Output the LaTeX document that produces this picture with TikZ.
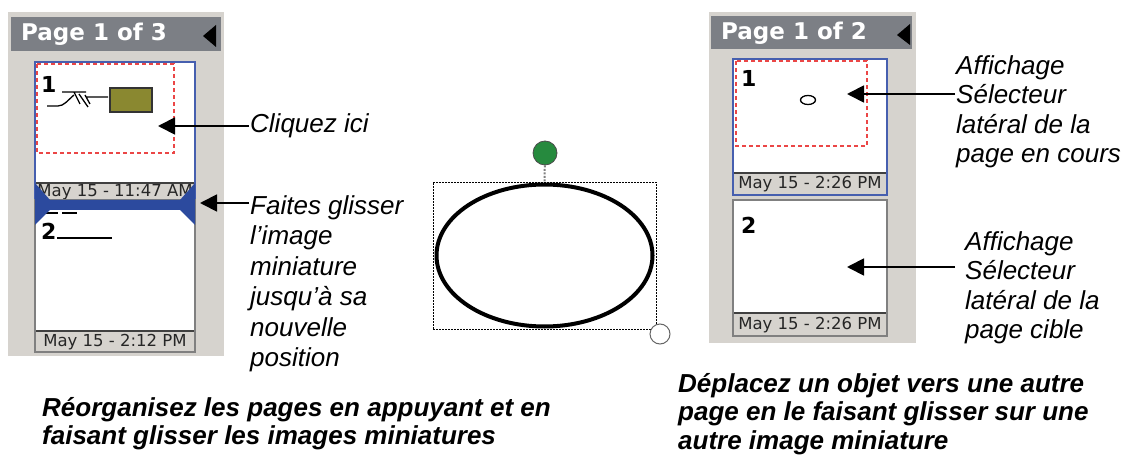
\documentclass[tikz,border=0pt]{standalone}
\usepackage{fontspec}
\setmainfont{Liberation Sans}
\newfontfamily\uifont{DejaVu Sans}
\usetikzlibrary{arrows.meta,positioning}
\definecolor{panelgray}{RGB}{214,211,206}
\definecolor{headgray}{RGB}{124,127,133}
\definecolor{markblue}{RGB}{44,74,158}
\definecolor{frameblue}{RGB}{70,95,175}
\definecolor{handlegreen}{RGB}{38,138,62}
\definecolor{thumbolive}{RGB}{138,136,48}
\definecolor{dashred}{RGB}{235,70,70}

\begin{document}
\begin{tikzpicture}[x=1pt, y=-1pt, inner sep=0pt,
panel/.style={fill=panelgray},
header/.style={fill=headgray},
headtext/.style={anchor=west, text=white, font=\uifont\bfseries\fontsize{23}{25}\selectfont},
thumb/.style={draw=frameblue, fill=white, line width=1.2pt},
thumbplain/.style={draw=gray, fill=white, line width=1.2pt},
datestrip/.style={fill=panelgray},
dateline/.style={draw=black!75, line width=1.5pt},
datetext/.style={font=\uifont\fontsize{16.5}{18}\selectfont, text=black!85},
pagenum/.style={anchor=west, font=\uifont\bfseries\fontsize{22}{24}\selectfont},
selbox/.style={draw=dashred, line width=1.6pt, dash pattern=on 4pt off 3pt},
label/.style={align=left, inner sep=1pt, font=\itshape\fontsize{26}{30.5}\selectfont},
rlabel/.style={label, font=\itshape\fontsize{26}{29.5}\selectfont},
caption/.style={align=left, anchor=north west, font=\bfseries\itshape\fontsize{26}{28.5}\selectfont},
pointer/.style={-{Triangle[length=17pt,width=17pt]}, line width=1.8pt}]
\useasboundingbox (0,0) rectangle (1129,462);

\fill[panel] (8,12) rectangle (224,356);
\fill[header] (11,17) rectangle (221,51);
\node[headtext] (head_l) at (21,34) {Page 1 of 3};
\fill (216,25) -- (216,47) -- (203,36) -- cycle;
\draw[thumb] (35,62) rectangle (195,200);
\fill[datestrip] (36,183) rectangle (194,199);
\draw[dateline] (36,183) -- (194,183);
\node[datetext] (date_l1) at (115,192) {May 15 - 11:47 AM};
\draw[selbox] (37,64) rectangle (174,153);
\node[pagenum] (num_l1) at (41,84) {1};
\draw[line width=1.3pt] (47,106) -- (58,106) .. controls (64,106) and (68,100) .. (74,95);
\draw[line width=1.3pt] (62,92) -- (86,92) (74,92) -- (80,104) (79,94) -- (88,107) (85,95) -- (90,104) (86,97) -- (108,97);
\draw[fill=thumbolive, draw=black!80, line width=1.2pt] (110,88) rectangle (152,112);
\draw[thumbplain] (35,200) rectangle (195,352);
\fill[datestrip] (36,331) rectangle (194,351);
\draw[dateline] (36,331) -- (194,331);
\node[datetext] (date_l2) at (115,342) {May 15 - 2:12 PM};
\node[pagenum] (num_l2) at (41,231) {2};
\draw[line width=1.5pt] (57,238) -- (112,238) (43,213) -- (58,213) (62,213) -- (77,213);
\fill[markblue] (35,183) -- (50,200) -- (180,200) -- (195,183) -- (195,225) -- (180,210) -- (50,210) -- (35,225) -- cycle;

\node[draw, line width=0.8pt, dash pattern=on 2pt off 1pt, minimum width=223pt, minimum height=147pt] (sel) at (544.5,255.5) {};
\draw[line width=4pt] (sel.center) ellipse [x radius=108pt, y radius=71pt];
\node[circle, fill=handlegreen, draw=black!70, line width=0.8pt, minimum size=24pt] (rot) at (545,153) {};
\node[circle, fill=white, draw=black!60, line width=1pt, minimum size=20pt] (grip) at (660,334) {};
\draw[gray, line width=2pt, dash pattern=on 2pt off 1.5pt] (rot) -- (sel.north);

\fill[panel] (709,12) rectangle (916,343);
\fill[header] (711,16) rectangle (912,49);
\node[headtext] (head_r) at (721,33) {Page 1 of 2};
\fill (910,24) -- (910,45) -- (897,35) -- cycle;
\draw[thumb] (733,59) rectangle (887,195);
\fill[datestrip] (734,173) rectangle (886,194);
\draw[dateline] (734,173) -- (886,173);
\node[datetext] (date_r1) at (810,184) {May 15 - 2:26 PM};
\draw[selbox] (736,61) rectangle (867,146);
\node[pagenum] (num_r1) at (741,78) {1};
\draw[line width=1.3pt] (808,100) ellipse [x radius=7.5pt, y radius=4.5pt];
\draw[thumbplain] (733,200) rectangle (887,336);
\fill[datestrip] (734,313) rectangle (886,335);
\draw[dateline] (734,313) -- (886,313);
\node[datetext] (date_r2) at (810,325) {May 15 - 2:26 PM};
\node[pagenum] (num_r2) at (741,225) {2};

\node[label, anchor=west] (lab_click) at (249,126) {Cliquez ici};
\node[label, anchor=north west] (lab_drag) at (249,194) {Faites glisser\\l’image\\miniature\\jusqu’à sa\\nouvelle\\position};
\node[rlabel, anchor=north west] (lab_cur) at (955,54) {Affichage\\Sélecteur\\latéral de la\\page en cours};
\node[rlabel, anchor=north west] (lab_tgt) at (964,230) {Affichage\\Sélecteur\\latéral de la\\page cible};
\coordinate (tip_click) at (158,126);
\coordinate (tip_drag) at (200,203);
\coordinate (tip_cur) at (847,94);
\coordinate (tip_tgt) at (847,267);
\path[pointer]
(lab_click.west) edge (tip_click)
([yshift=-9pt]lab_drag.north west) edge (tip_drag)
([yshift=-40pt]lab_cur.north west) edge (tip_cur)
([xshift=-9pt,yshift=-37pt]lab_tgt.north west) edge (tip_tgt);

\node[caption] (cap_l) at (42,397) {Réorganisez les pages en appuyant et en\\faisant glisser les images miniatures};
\node[caption] (cap_r) at (678,373) {Déplacez un objet vers une autre\\page en le faisant glisser sur une\\autre image miniature};
\end{tikzpicture}
\end{document}
